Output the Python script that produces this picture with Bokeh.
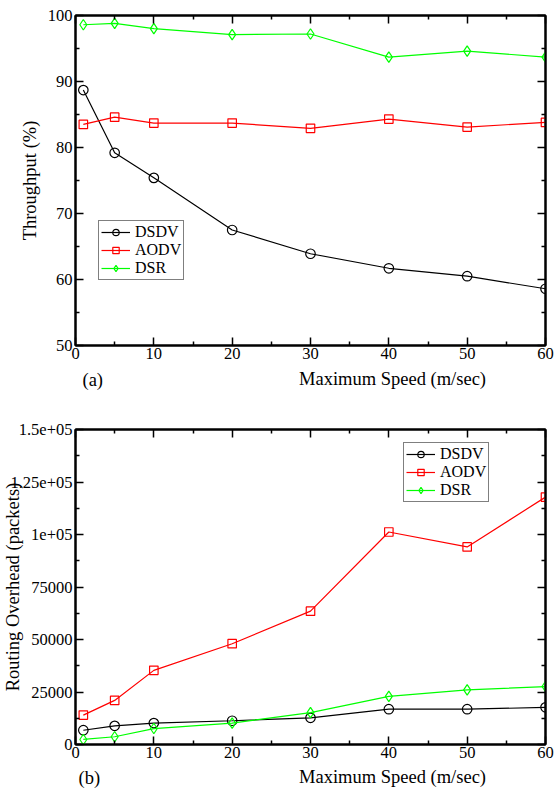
import numpy as np
from bokeh.plotting import figure
from bokeh.models import (LinearAxis, FixedTicker, Range1d, Legend, LegendItem, Label)
from bokeh.layouts import column
from bokeh.embed import file_html
from bokeh.resources import INLINE

# ---------------- data ----------------
speed = [1, 5, 10, 20, 30, 40, 50, 60]

thr_dsdv = [88.7, 79.2, 75.4, 67.5, 63.9, 61.7, 60.5, 58.6]
thr_aodv = [83.5, 84.6, 83.7, 83.7, 82.9, 84.3, 83.1, 83.8]
thr_dsr = [98.6, 98.8, 98.0, 97.1, 97.2, 93.7, 94.6, 93.7]

ovh_dsdv = [6800, 8900, 10200, 11300, 12700, 16800, 16800, 17700]
ovh_aodv = [14000, 21000, 35300, 48000, 63500, 101200, 94100, 117800]
ovh_dsr = [2400, 3700, 7600, 10200, 15200, 22900, 26000, 27600]

x_ticks = [0, 10, 20, 30, 40, 50, 60]
x_minor = [5, 15, 25, 35, 45, 55]
thr_ticks = [50, 60, 70, 80, 90, 100]
thr_minor = [55, 65, 75, 85, 95]
ovh_ticks = [0, 25000, 50000, 75000, 100000, 125000, 150000]
ovh_minor = [12500, 37500, 62500, 87500, 112500, 137500]
ovh_tick_labels = ["0", "25000", "50000", "75000", "1e+05", "1.25e+05", "1.5e+05"]

series_names = ["DSDV", "AODV", "DSR"]
series_colors = ["#000000", "#ff0000", "#00ff00"]
series_markers = ["circle", "square", "diamond"]
marker_sizes = [9.5, 8.5, 10.5]

FONT = "Liberation Serif"
TICK_SIZE = "16.5px"
TITLE_SIZE = "18.5px"


def style_axis(ax, show_labels=True):
    ax.axis_line_color = "black"
    ax.axis_line_width = 2
    ax.major_tick_in = 8
    ax.major_tick_out = 0
    ax.minor_tick_in = 4
    ax.minor_tick_out = 0
    ax.major_tick_line_width = 1.5
    ax.minor_tick_line_width = 1.5
    ax.major_tick_line_color = "black"
    ax.minor_tick_line_color = "black"
    ax.major_label_text_font = FONT
    ax.major_label_text_font_size = TICK_SIZE
    ax.major_label_text_color = "black"
    ax.major_label_standoff = 3
    ax.axis_label_standoff = 0
    ax.axis_label_text_font = FONT
    ax.axis_label_text_font_size = TITLE_SIZE
    ax.axis_label_text_font_style = "normal"
    ax.axis_label_text_color = "black"
    if not show_labels:
        ax.major_label_text_font_size = "0px"
        ax.major_label_text_color = None
        ax.major_label_standoff = 0


def make_panel(height, b_top, b_bottom, frame_h, y0, y1, yt, ym, ylabels, ys, leg_loc,
               ytitle, ytitle_standoff):
    p = figure(width=556, height=height, frame_width=470, frame_height=frame_h,
               x_range=Range1d(0, 60), y_range=Range1d(y0, y1),
               output_backend="svg", toolbar_location=None,
               min_border_left=75, min_border_right=11,
               min_border_top=b_top, min_border_bottom=b_bottom)
    p.grid.visible = False
    p.outline_line_color = "black"
    p.outline_line_width = 2
    p.background_fill_color = "white"
    p.border_fill_color = "white"

    p.xaxis.ticker = FixedTicker(ticks=x_ticks, minor_ticks=x_minor)
    p.yaxis.ticker = FixedTicker(ticks=yt, minor_ticks=ym)
    if ylabels is not None:
        p.yaxis.major_label_overrides = {t: l for t, l in zip(yt, ylabels)}
    style_axis(p.xaxis[0])
    style_axis(p.yaxis[0])
    p.xaxis[0].major_label_standoff = 2
    p.yaxis[0].axis_label = ytitle
    p.yaxis[0].axis_label_standoff = ytitle_standoff

    top_ax = LinearAxis(ticker=FixedTicker(ticks=x_ticks, minor_ticks=x_minor))
    right_ax = LinearAxis(ticker=FixedTicker(ticks=yt, minor_ticks=ym))
    style_axis(top_ax, False)
    style_axis(right_ax, False)
    p.add_layout(top_ax, "above")
    p.add_layout(right_ax, "right")

    items = []
    for name, col, mk, ms, yv in zip(series_names, series_colors, series_markers,
                                     marker_sizes, ys):
        ln = p.line(speed, yv, line_color=col, line_width=1.2)
        sc = p.scatter(speed, yv, marker=mk, size=ms,
                       line_color=col, fill_color=None, line_width=1.2)
        items.append(LegendItem(label=name, renderers=[ln, sc]))

    leg = Legend(items=items, location=leg_loc,
                 border_line_color="black", border_line_width=1.5,
                 background_fill_color="white", background_fill_alpha=1,
                 padding=2, spacing=0, margin=0,
                 glyph_width=29, glyph_height=16, label_height=16,
                 label_standoff=5,
                 label_text_font=FONT, label_text_font_size="16px",
                 label_text_color="black")
    p.add_layout(leg)
    return p


def make_strip(height, tag, tag_x, tag_y, title_y):
    s = figure(width=556, height=height, x_range=Range1d(0, 1), y_range=Range1d(0, 1),
               x_axis_type=None, y_axis_type=None, min_border=0,
               output_backend="svg", toolbar_location=None)
    s.outline_line_color = None
    s.grid.visible = False
    s.background_fill_color = "white"
    s.border_fill_color = "white"
    s.add_layout(Label(x=317, y=title_y, x_units="screen", y_units="screen",
                       text="Maximum Speed (m/sec)", text_align="center",
                       text_baseline="alphabetic", text_font=FONT,
                       text_font_size=TITLE_SIZE, text_color="black"))
    s.add_layout(Label(x=tag_x, y=tag_y, x_units="screen", y_units="screen",
                       text=tag, text_align="left", text_baseline="alphabetic",
                       text_font=FONT, text_font_size=TITLE_SIZE, text_color="black"))
    return s


p1 = make_panel(368, 15, 23, 330, 50, 100, thr_ticks, thr_minor, None,
                [thr_dsdv, thr_aodv, thr_dsr], (23, 65), "Throughput (%)", 5)
s1 = make_strip(22, "(a)", 7, 11, 12)
p2 = make_panel(377, 39, 23, 315, 0, 150000, ovh_ticks, ovh_minor, ovh_tick_labels,
                [ovh_dsdv, ovh_aodv, ovh_dsr], (328, 242),
                "Routing Overhead (packets)", -16)
s2 = make_strip(22, "(b)", 3, 12, 13)

layout = column(p1, s1, p2, s2, spacing=0)
open("out.html", "w").write(file_html(layout, INLINE))
